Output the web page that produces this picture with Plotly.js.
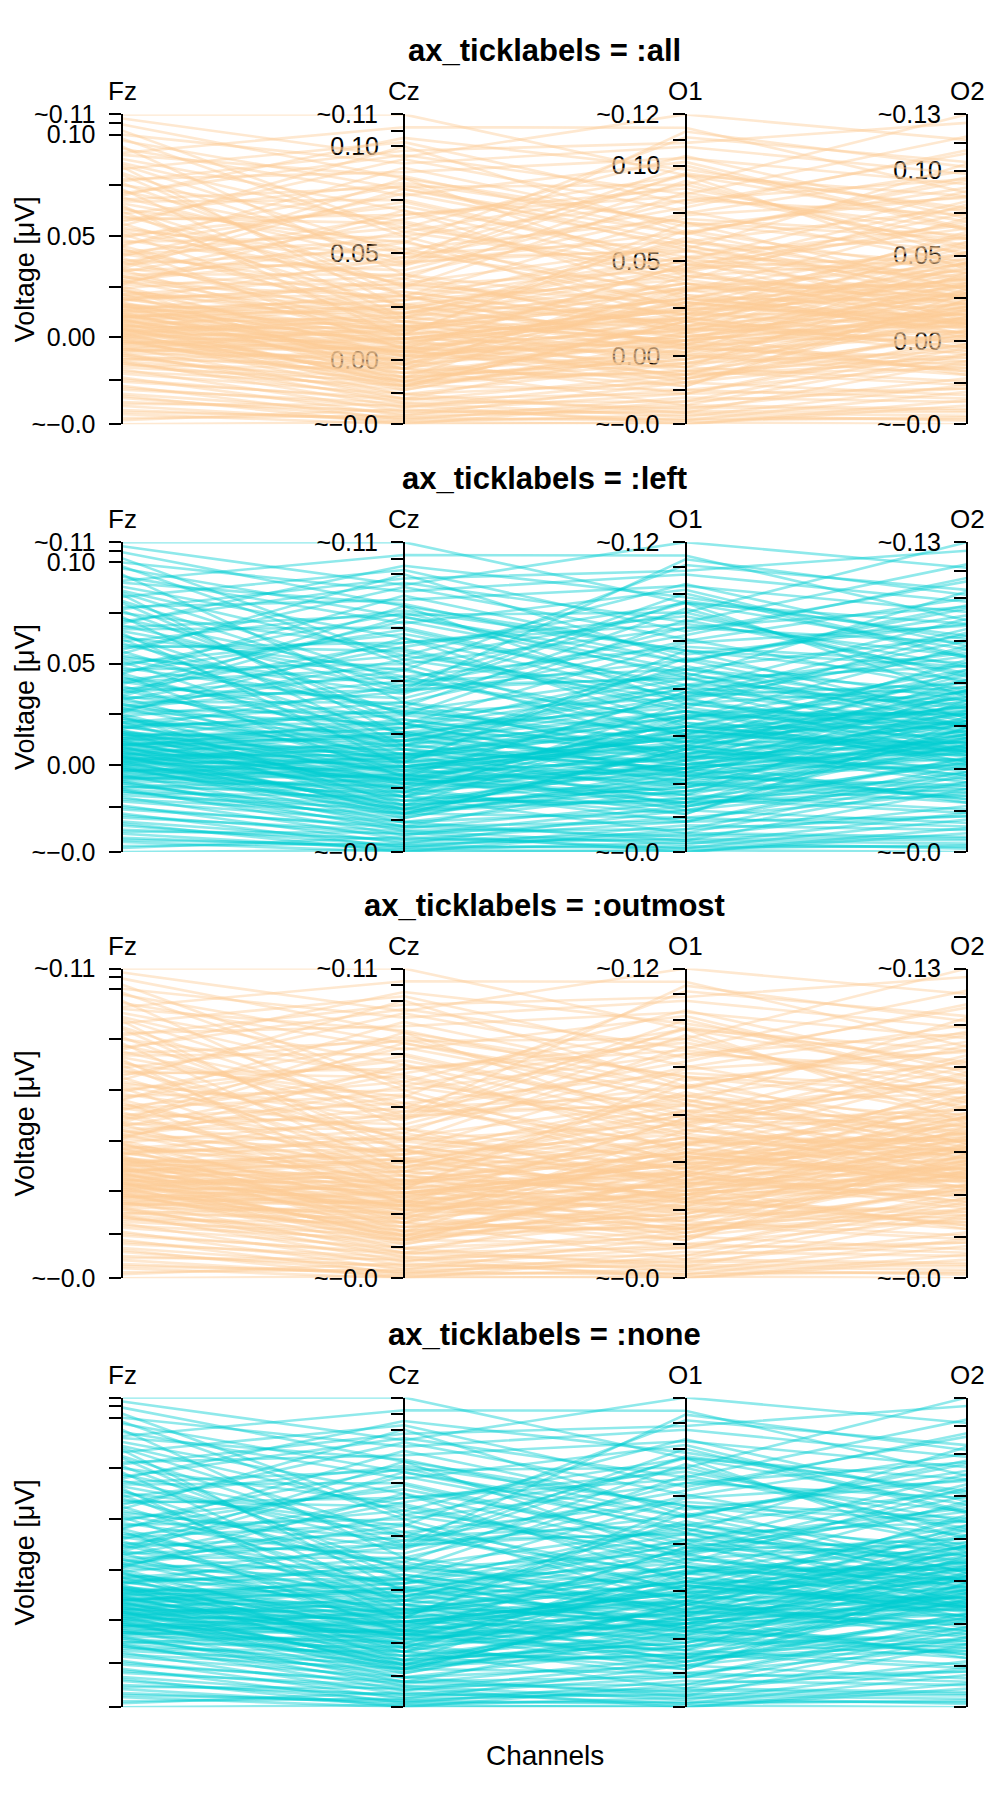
<!DOCTYPE html>
<html><head><meta charset="utf-8">
<script src="https://cdn.plot.ly/plotly-3.0.1.min.js"></script>
<style>html,body{margin:0;padding:0;background:#fff}</style>
</head><body><div id="chart" style="width:1000px;height:1800px"></div>
<script>
const channels = ['Fz', 'Cz', 'O1', 'O2'];

const fz = [
0.110,0.108,0.105,0.102,0.100,0.097,0.094,0.091,0.088,0.085,
0.083,0.080,0.078,0.075,0.073,0.071,0.069,0.067,0.065,0.063,
0.061,0.060,0.058,0.056,0.055,0.053,0.051,0.050,0.048,0.047,
0.045,0.044,0.042,0.041,0.040,0.038,0.037,0.036,0.035,0.034,
0.033,0.032,0.031,0.030,0.029,0.028,0.027,0.026,0.025,0.024,
0.023,0.022,0.021,0.020,0.019,0.018,0.017,0.016,0.016,0.015,
0.014,0.014,0.013,0.012,0.012,0.011,0.010,0.010,0.009,0.008,
0.008,0.007,0.006,0.006,0.005,0.004,0.004,0.003,0.002,0.002,
0.001,0.000,0.000,-0.001,-0.002,-0.002,-0.003,-0.004,-0.005,-0.006,
-0.006,-0.007,-0.008,-0.009,-0.010,-0.011,-0.012,-0.013,-0.014,-0.016,
-0.018,-0.020,-0.022,-0.024,-0.026,-0.028,-0.030,-0.032,-0.034,-0.036,
-0.038,-0.040,-0.043,
0.052,0.046,0.039,0.066,0.076,0.086,0.093,0.057,0.043,0.027,
0.018,0.013,0.009,0.005,0.001,-0.003,-0.006,0.011,0.015,0.007,
0.003,-0.001,0.019,0.021,0.010,-0.008,-0.012,-0.004,0.004,0.016,
0.062,0.070,0.081,0.034,0.024,-0.017,-0.021,-0.025,-0.029,-0.033,
-0.037,-0.041,
0.098,0.090,0.084,0.077,0.072,0.068,0.064,0.059,0.054,0.049,
0.045,0.041,0.037,0.033,0.030,0.028,0.026,0.023,0.021,0.019,
0.017,0.015,0.013,0.012,0.011,0.010,0.009,0.008,0.007,0.006,
0.005,0.004,0.003,0.002,0.001,0.000,-0.001,-0.002,-0.003,-0.005,
-0.007,-0.009,-0.011,-0.013,-0.015
];

const cz = [
0.115,0.095,0.085,0.060,0.092,0.080,0.040,0.109,0.070,0.050,
0.102,0.030,0.088,0.065,0.020,0.096,0.045,0.075,0.010,0.055,
0.083,0.035,0.068,0.025,0.100,0.048,0.015,0.072,0.038,0.058,
0.090,0.005,0.062,0.032,0.078,0.042,0.018,0.052,0.085,0.028,
0.008,0.066,0.040,0.022,0.055,0.012,0.035,0.070,0.002,0.045,
0.016,0.025,-0.004,0.030,0.010,0.048,0.006,0.020,-0.010,0.014,
0.028,0.000,0.038,0.008,-0.006,0.018,0.004,0.024,-0.012,0.012,
0.002,0.020,-0.002,0.010,0.026,-0.008,0.006,0.016,-0.014,0.004,
0.012,-0.004,0.008,-0.016,0.002,-0.010,0.014,-0.002,-0.018,0.000,
-0.008,0.006,-0.020,-0.006,-0.012,0.004,-0.022,-0.014,-0.004,-0.024,
-0.016,-0.026,-0.018,-0.028,-0.020,-0.025,-0.027,-0.024,-0.029,-0.028,
-0.030,-0.026,-0.029,
0.036,0.074,0.012,0.050,0.034,0.062,0.077,0.094,0.026,0.060,
0.036,0.022,0.032,0.015,0.020,0.010,0.016,-0.001,0.003,-0.011,
0.009,-0.006,0.013,0.040,0.028,0.001,-0.009,0.005,-0.013,0.007,
0.018,0.104,0.046,0.080,-0.008,-0.012,-0.019,-0.022,-0.030,-0.021,
-0.027,-0.023,
0.058,0.086,0.024,0.098,0.052,0.081,0.030,0.064,0.044,0.082,
0.020,0.056,0.068,0.046,0.014,0.050,0.030,0.006,0.022,0.034,
-0.002,0.024,0.012,0.030,0.002,0.016,-0.004,0.026,0.010,0.004,
-0.010,0.018,0.000,0.022,-0.008,0.014,0.004,-0.012,0.006,-0.004,
0.010,-0.016,-0.002,-0.018,-0.010
];

const o1 = [
0.095,0.127,0.070,0.090,0.110,0.060,0.075,0.120,0.030,0.095,
0.080,0.055,0.104,0.040,0.062,0.085,0.100,0.050,0.020,0.115,
0.070,0.045,0.088,0.010,0.065,0.078,0.035,0.052,0.092,0.025,
0.068,0.048,0.105,0.015,0.058,0.082,0.038,0.072,0.042,0.060,
0.022,0.095,0.012,0.050,0.032,0.070,0.028,0.045,0.008,0.065,
0.030,0.018,0.042,0.005,0.024,0.055,-0.004,0.035,0.012,0.002,
0.040,0.020,0.015,0.028,-0.010,0.008,0.032,0.000,0.018,0.025,
-0.006,0.010,0.036,0.004,0.022,-0.002,0.014,-0.012,0.006,0.026,
-0.008,0.016,0.000,-0.014,0.010,-0.004,0.030,-0.016,0.004,-0.020,
0.012,-0.010,-0.024,0.002,-0.018,-0.006,-0.012,0.008,-0.026,-0.020,
-0.030,-0.014,-0.028,-0.022,-0.032,-0.026,-0.034,-0.030,-0.036,-0.033,
-0.035,-0.029,-0.031,
0.022,0.048,0.066,0.034,0.086,0.046,0.102,0.076,0.006,0.044,
0.058,0.046,0.016,0.038,0.006,0.024,0.004,0.010,0.028,-0.008,
0.019,0.008,-0.002,0.026,0.052,0.014,0.001,-0.016,0.020,0.013,
0.008,0.098,0.118,0.064,0.034,0.000,-0.010,-0.018,-0.024,-0.036,
-0.027,-0.034,
0.082,0.064,0.052,0.112,0.026,0.090,0.074,0.038,0.096,0.056,
0.044,0.018,0.084,0.056,0.030,0.060,0.014,0.048,0.038,0.022,
0.030,0.050,0.020,0.004,0.034,0.012,-0.012,0.042,0.024,0.008,
0.018,-0.006,0.028,0.014,-0.002,0.036,-0.010,0.018,0.002,0.022,
-0.014,-0.004,0.006,-0.020,-0.008
];

const o2 = [
0.085,0.118,0.060,0.133,0.098,0.045,0.100,0.087,0.052,0.070,
0.110,0.035,0.092,0.080,0.025,0.120,0.065,0.040,0.055,0.105,
0.030,0.075,0.060,0.020,0.090,0.112,0.045,0.068,0.050,0.015,
0.085,0.038,0.072,0.058,0.028,0.095,0.010,0.062,0.048,0.078,
0.032,0.042,0.022,0.088,0.018,0.052,0.036,0.008,0.044,0.030,
0.012,0.040,0.025,0.006,0.034,0.060,0.018,0.002,0.028,0.046,
0.015,-0.004,0.038,0.010,0.024,0.032,0.004,0.020,-0.008,0.036,
0.014,0.000,0.026,-0.012,0.008,0.030,0.016,-0.002,0.012,0.042,
0.003,0.022,-0.016,0.006,0.018,-0.006,0.010,0.028,-0.010,0.002,
-0.020,0.014,-0.004,0.020,-0.014,-0.024,0.004,-0.018,-0.008,-0.028,
-0.012,-0.032,-0.022,-0.036,-0.026,-0.040,-0.030,-0.044,-0.038,-0.046,
-0.049,-0.042,-0.047,
0.064,0.026,0.040,0.072,0.056,0.082,0.066,0.046,0.034,0.070,
0.024,0.050,0.008,0.019,0.030,-0.002,0.012,0.026,0.007,-0.010,
0.037,0.016,0.011,0.048,0.021,0.005,-0.014,0.024,-0.006,0.033,
0.014,0.076,0.102,0.094,0.058,-0.020,-0.016,-0.034,-0.028,-0.035,
-0.041,-0.045,
0.074,0.096,0.044,0.128,0.062,0.054,0.084,0.032,0.078,0.104,
0.020,0.046,0.066,0.012,0.056,0.036,0.028,0.066,0.004,0.042,
0.024,0.010,0.046,0.018,0.034,0.052,0.006,0.022,0.028,0.013,
-0.004,0.040,0.009,0.001,0.017,0.032,-0.012,0.026,0.003,0.015,
-0.008,0.010,-0.018,-0.002,-0.026
];

// unlabeled / labeled ticks inside each channel's range
const innerTicks = {
  Fz: [-0.021, 0.00, 0.025, 0.05, 0.075, 0.10, 0.1058],
  Cz: [-0.0152, 0.00, 0.025, 0.05, 0.075, 0.10, 0.1072],
  O1: [-0.0178, 0.00, 0.025, 0.05, 0.075, 0.10, 0.1137],
  O2: [-0.0248, 0.00, 0.025, 0.05, 0.075, 0.10, 0.1163]
};
const labeledTicks = [0.00, 0.05, 0.10];
const topLabels = ['~0.11', '~0.11', '~0.12', '~0.13'];
const bottomLabel = '~\u22120.0';

const panelModes = ['all', 'left', 'outmost', 'none'];
const panelTitles = ['ax_ticklabels = :all', 'ax_ticklabels = :left', 'ax_ticklabels = :outmost', 'ax_ticklabels = :none'];
const panelColors = ['rgba(253,204,150,0.45)', 'rgba(0,206,209,0.44)', 'rgba(253,204,150,0.45)', 'rgba(0,206,209,0.44)'];
const yTitle = 'Voltage [\u03bcV]';
const xTitle = 'Channels';

// ---- geometry (pixels) ----
const W = 1000, H = 1800;
const plotLeft = 122.5, plotRight = 967;
const panelTops = [114.4, 542.2, 968.5, 1397.5];
const panelH = 309.8;
const FONT = 'Liberation Sans, Arial, Helvetica, sans-serif';

const series = {Fz: fz, Cz: cz, O1: o1, O2: o2};
const ranges = {};
channels.forEach(c => { ranges[c] = [Math.min(...series[c]), Math.max(...series[c])]; });
const nLines = fz.length;

function toFz(v, c) {
  const r = ranges[c], rf = ranges.Fz;
  return rf[0] + (v - r[0]) / (r[1] - r[0]) * (rf[1] - rf[0]);
}

function tickSet(ci, kind) {
  const c = channels[ci];
  const vals = [ranges[c][0]].concat(innerTicks[c], [ranges[c][1]]);
  const text = vals.map((v, i) => {
    const isBottom = i === 0, isTop = i === vals.length - 1;
    if (kind === 'none') return '';
    if (isBottom) return (kind === 'middle') ? '' : bottomLabel;
    if (isTop) return (kind === 'middle') ? '' : topLabels[ci];
    if (kind === 'full' || kind === 'middle') {
      const lab = labeledTicks.find(t => Math.abs(t - v) < 1e-9);
      return lab !== undefined ? lab.toFixed(2) : '';
    }
    return '';
  });
  return {tickvals: vals, ticktext: text};
}

function axisStyle(extra) {
  return Object.assign({
    showgrid: false, zeroline: false, showline: true, linecolor: '#000', linewidth: 2,
    ticks: 'outside', ticklen: 12, tickwidth: 2, tickcolor: '#000', tickmode: 'array',
    tickfont: {family: FONT, size: 25, color: '#000'}, ticklabelstandoff: 8,
    fixedrange: true, side: 'left'
  }, extra);
}

const layout = {
  width: W, height: H, margin: {l: 0, r: 0, t: 0, b: 0},
  paper_bgcolor: '#fff', plot_bgcolor: 'rgba(0,0,0,0)', showlegend: false,
  font: {family: FONT, color: '#000'}, annotations: []
};
const traces = [];
let yCounter = 0;
const xDom = [plotLeft / W, plotRight / W];
const pos = k => (plotLeft + k / 3 * (plotRight - plotLeft)) / W;
const axName = n => (n === 1 ? 'yaxis' : 'yaxis' + n);
const axRef = n => (n === 1 ? 'y' : 'y' + n);

panelModes.forEach((mode, p) => {
  const top = panelTops[p];
  const yDom = [1 - (top + panelH) / H, 1 - top / H];
  const xId = p === 0 ? 'x' : 'x' + (p + 1);
  const xName = p === 0 ? 'xaxis' : 'xaxis' + (p + 1);
  layout[xName] = {
    domain: xDom, type: 'category', categoryorder: 'array', categoryarray: channels,
    range: [0, 3], visible: false, fixedrange: true, anchor: axRef(yCounter + 1)
  };
  // main (Fz) axis
  yCounter += 1;
  const mainN = yCounter;
  const mainKind = (mode === 'all' || mode === 'left') ? 'full' : (mode === 'outmost' ? 'extrema' : 'none');
  layout[axName(mainN)] = axisStyle(Object.assign({
    domain: yDom, range: ranges.Fz, anchor: xId
  }, tickSet(0, mainKind)));

  // lines
  for (let i = 0; i < nLines; i++) {
    traces.push({
      type: 'scatter', mode: 'lines', x: channels,
      y: [fz[i], toFz(cz[i], 'Cz'), toFz(o1[i], 'O1'), toFz(o2[i], 'O2')],
      xaxis: xId, yaxis: axRef(mainN),
      line: {color: panelColors[p], width: 2.6}, hoverinfo: 'skip', showlegend: false
    });
  }

  // other channel axes
  for (let k = 1; k < 4; k++) {
    let kind = mode === 'none' ? 'none' : 'extrema';
    yCounter += 1;
    layout[axName(yCounter)] = axisStyle(Object.assign({
      overlaying: axRef(mainN), anchor: 'free', position: pos(k), range: ranges[channels[k]]
    }, tickSet(k, kind)));
    traces.push({type: 'scatter', mode: 'lines', x: [], y: [], xaxis: xId, yaxis: axRef(yCounter), hoverinfo: 'skip', showlegend: false});
    if (mode === 'all') {
      // middle labels drawn beneath the lines
      yCounter += 1;
      layout[axName(yCounter)] = axisStyle(Object.assign({
        overlaying: axRef(mainN), anchor: 'free', position: pos(k), range: ranges[channels[k]],
        showline: false, tickcolor: 'rgba(0,0,0,0)', layer: 'below traces'
      }, tickSet(k, 'middle')));
      traces.push({type: 'scatter', mode: 'lines', x: [], y: [], xaxis: xId, yaxis: axRef(yCounter), hoverinfo: 'skip', showlegend: false});
    }
  }

  // titles and labels
  layout.annotations.push({
    xref: 'paper', yref: 'paper', x: (plotLeft + plotRight) / 2 / W, y: 1 - (top - 44) / H,
    xanchor: 'center', yanchor: 'bottom', showarrow: false,
    text: '<b>' + panelTitles[p] + '</b>', font: {family: FONT, size: 31, color: '#000'}
  });
  channels.forEach(c => {
    layout.annotations.push({
      xref: xId, yref: 'paper', x: c, y: 1 - (top - 6) / H,
      xanchor: 'center', yanchor: 'bottom', showarrow: false,
      text: c, font: {family: FONT, size: 26, color: '#000'}
    });
  });
  layout.annotations.push({
    xref: 'paper', yref: 'paper', x: 25 / W, y: 1 - (top + panelH / 2) / H,
    xanchor: 'center', yanchor: 'middle', textangle: -90, showarrow: false,
    text: yTitle, font: {family: FONT, size: 27, color: '#000'}
  });
});

layout.annotations.push({
  xref: 'paper', yref: 'paper', x: (plotLeft + plotRight) / 2 / W, y: 1 - 1755 / H,
  xanchor: 'center', yanchor: 'middle', showarrow: false,
  text: xTitle, font: {family: FONT, size: 28, color: '#000'}
});

Plotly.newPlot('chart', traces, layout, {staticPlot: true, displayModeBar: false});
</script></body></html>
